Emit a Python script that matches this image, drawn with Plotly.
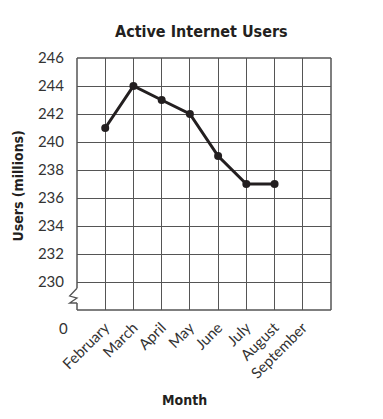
import plotly.graph_objects as go

months = ["February", "March", "April", "May", "June", "July", "August", "September"]
users = [241, 244, 243, 242, 239, 237, 237, None]
y_ticks = [230, 232, 234, 236, 238, 240, 242, 244, 246]

x_pos = list(range(1, len(months) + 1))

TITLE_FONT = "Liberation Sans Narrow, DejaVu Sans Condensed, Roboto, sans-serif"
TICK_FONT = "Lato, Open Sans, sans-serif"
INK = "#231f20"
GRID = "#555555"

fig = go.Figure()
fig.add_trace(go.Scatter(
    x=x_pos, y=users, mode="lines+markers",
    line=dict(color=INK, width=3),
    marker=dict(color=INK, size=8),
    connectgaps=False, showlegend=False, hoverinfo="skip",
))

fig.update_xaxes(
    range=[0, 9], tickvals=x_pos, ticktext=months, tickangle=-45,
    showgrid=True, gridcolor=GRID, gridwidth=1, zeroline=False, showline=False,
    ticks="outside", ticklen=2, tickcolor="rgba(0,0,0,0)",
    tickfont=dict(family=TICK_FONT, size=15, color="#333333"),
    fixedrange=True, automargin=False,
)
fig.update_yaxes(
    range=[228, 246], tickvals=y_ticks, ticktext=[str(v) for v in y_ticks],
    showgrid=True, gridcolor=GRID, gridwidth=1, zeroline=False, showline=False,
    ticks="outside", ticklen=9, tickcolor="rgba(0,0,0,0)",
    tickfont=dict(family=TICK_FONT, size=15, color="#333333"),
    fixedrange=True, automargin=False,
)

y_span = 246 - 228


def py(v):
    return (v - 228) / y_span


shapes = []
line_style = dict(color=GRID, width=1.5)
# top, right, bottom borders
shapes.append(dict(type="line", xref="paper", yref="paper", x0=0, x1=1, y0=1, y1=1, line=line_style))
shapes.append(dict(type="line", xref="paper", yref="paper", x0=1, x1=1, y0=0, y1=1, line=line_style))
shapes.append(dict(type="line", xref="paper", yref="paper", x0=0, x1=1, y0=0, y1=0, line=line_style))
# left border with break
shapes.append(dict(type="line", xref="paper", yref="paper", x0=0, x1=0, y0=py(229.55), y1=1, line=line_style))
shapes.append(dict(type="line", xref="paper", yref="paper", x0=0, x1=0, y0=0, y1=py(228.5), line=line_style))
zx = -0.26 / 9
shapes.append(dict(type="path", xref="paper", yref="paper",
                   path=f"M 0,{py(229.55)} L {zx},{py(229.0)} L 0,{py(228.85)} L {zx},{py(228.5)} L 0,{py(228.5)}",
                   line=dict(color=GRID, width=1.3)))
fig.update_layout(shapes=shapes)

annotations = [
    dict(text="<b>Active Internet Users</b>", xref="paper", yref="paper", x=0.49, y=1.0,
         yshift=38, showarrow=False, font=dict(family=TITLE_FONT, size=16, color=INK)),
    dict(text="<b>Users (millions)</b>", xref="paper", yref="paper", x=0, xshift=-69, y=0.49,
         textangle=-90, showarrow=False, font=dict(family=TITLE_FONT, size=14, color=INK)),
    dict(text="<b>Month</b>", xref="paper", yref="paper", x=0.425, y=0, yshift=-100,
         showarrow=False, font=dict(family=TITLE_FONT, size=14, color=INK)),
    dict(text="0", xref="paper", yref="paper", x=0, xshift=-14, y=py(225.9), xanchor="center",
         showarrow=False, font=dict(family=TICK_FONT, size=15, color="#333333")),
]
fig.update_layout(annotations=annotations)

# the page body has an 8px margin, so the figure is drawn 8px smaller
fig.update_layout(
    width=375, height=411,
    margin=dict(l=69, r=52, t=50, b=109),
    paper_bgcolor="white", plot_bgcolor="white",
)

fig.write_html("out.html")
